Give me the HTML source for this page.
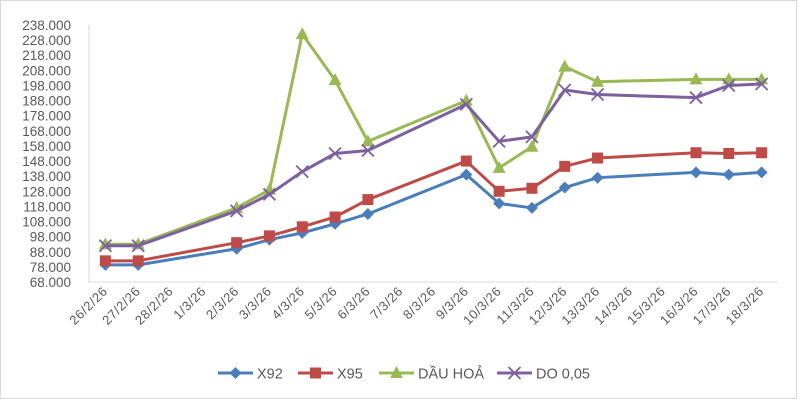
<!DOCTYPE html>
<html><head><meta charset="utf-8"><style>
body{margin:0;background:#fff}
svg{display:block;font-family:"Liberation Sans",sans-serif}
</style></head><body>
<svg id="chart" width="800" height="401">
<rect x="0.5" y="0.5" width="796" height="398" fill="#fff" stroke="#d9d9d9"/>
<g id="axes"></g><g id="series"></g><g id="legend"></g>
</svg>
<script>
const categories=["26/2/26","27/2/26","28/2/26","1/3/26","2/3/26","3/3/26","4/3/26","5/3/26","6/3/26","7/3/26","8/3/26","9/3/26","10/3/26","11/3/26","12/3/26","13/3/26","14/3/26","15/3/26","16/3/26","17/3/26","18/3/26"];
const yTicks=[68,78,88,98,108,118,128,138,148,158,168,178,188,198,208,218,228,238];
const x92=[79.3,79.3,null,null,90,96,100.5,106.5,113,null,null,139,120,117,130.5,137,null,null,140.5,139,140.5];
const x95=[82,82,null,null,94,98.5,104.5,111,122.5,null,null,148,128,130,144.5,150,null,null,153.5,153,153.5];
const dauHoa=[93,93,null,null,117,129,232,201.5,161,null,null,188,143.5,157.5,210.5,200.5,null,null,202,202,202];
const do005=[92,92,null,null,115,126,141,153,155,null,null,185.5,161,164,195,192,null,null,190,198,199];
const seriesNames=["X92","X95","DẦU HOẢ","DO 0,05"];
const NS="http://www.w3.org/2000/svg";
const L=89,R=778,T=25,B=282,ymin=68,ymax=238;
const step=(R-L)/categories.length;
const xp=i=>L+step*(i+0.5);
const yp=v=>B-(v-ymin)/(ymax-ymin)*(B-T);
function mk(tag,attrs,parent){const e=document.createElementNS(NS,tag);for(const k in attrs)e.setAttribute(k,attrs[k]);parent.appendChild(e);return e;}
const axes=document.getElementById('axes');
let a=mk('line',{x1:L,y1:T,x2:L,y2:B,stroke:'#d9d9d9','stroke-width':1},axes);


a=mk('line',{x1:L,y1:B,x2:R,y2:B,stroke:'#d9d9d9','stroke-width':1},axes);


yTicks.forEach(v=>{const t=mk('text',{x:71,y:yp(v)+5,'text-anchor':'end','font-size':13.5,fill:'#595959'},axes);t.textContent=v+'.000';

});
categories.forEach((c,i)=>{const x=xp(i)+3,y=292;const t=mk('text',{x:x,y:y,'text-anchor':'end','font-size':13,'letter-spacing':0.6,fill:'#595959',transform:`rotate(-45 ${x} ${y})`},axes);t.textContent=c;

});
const colors=['#4a7ebb','#be4b48','#98b954','#7d60a0'];
const data=[x92,x95,dauHoa,do005];
function marker(k,x,y,g){
 if(k===0)return mk('polygon',{points:`${x},${y-6} ${x+6},${y} ${x},${y+6} ${x-6},${y}`,fill:colors[0]},g);
 if(k===1)return mk('rect',{x:x-5.5,y:y-5.5,width:11,height:11,fill:colors[1]},g);
 if(k===2)return mk('polygon',{points:`${x},${y-7} ${x+6.5},${y+5} ${x-6.5},${y+5}`,fill:colors[2]},g);
 return mk('path',{d:`M${x-6},${y-6}L${x+6},${y+6}M${x+6},${y-6}L${x-6},${y+6}`,stroke:colors[3],'stroke-width':1.8,fill:'none'},g);
}
const sg=document.getElementById('series');
data.forEach((arr,k)=>{
 const g=mk('g',{},sg);
 
 
 const pts=[];arr.forEach((v,i)=>{if(v!=null)pts.push([xp(i),yp(v)]);});
 const pl=mk('polyline',{points:pts.map(p=>p.join(',')).join(' '),fill:'none',stroke:colors[k],'stroke-width':3,'stroke-linejoin':'round'},g);
 
 
 pts.forEach(p=>{const m=marker(k,p[0],p[1],g);
 
 });
});
const lg=document.getElementById('legend');
const lx=[218,298,379,497],tx=[257,337,418,536];
seriesNames.forEach((n,k)=>{
 const g=mk('g',{},lg);
 
 
 mk('line',{x1:lx[k],y1:373,x2:lx[k]+35,y2:373,stroke:colors[k],'stroke-width':3},g);
 marker(k,lx[k]+17.5,373,g);
 const t=mk('text',{x:tx[k],y:378.5,'font-size':14.5,fill:'#595959'},g);t.textContent=n;
});
</script>
</body></html>
